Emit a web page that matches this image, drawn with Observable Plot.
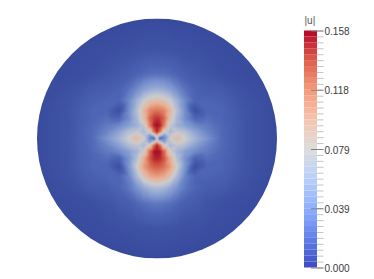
<!DOCTYPE html>
<html><head><meta charset="utf-8">
<script src="https://cdn.jsdelivr.net/npm/d3@7"></script>
<script src="https://cdn.jsdelivr.net/npm/@observablehq/plot@0.6"></script>
<style>
html,body{margin:0;padding:0;background:#fff}
#wrap{position:relative;width:374px;height:279px;overflow:hidden}
#wrap svg{position:absolute;top:0;background:transparent;font-family:"Liberation Sans",Arial,sans-serif}
#disk image{clip-path:circle(50%)}
</style></head><body><div id="wrap"></div>
<script>
const title = "|u|";
const tickLabels = ["0.158","0.118","0.079","0.039","0.000"];
const tickValues = [0.158,0.1185,0.079,0.0395,0];
const colorStops = [0,0.125,0.25,0.375,0.5,0.625,0.75,0.875,1];
const barColors = ["rgb(59,76,192)","rgb(98,130,234)","rgb(141,176,254)","rgb(184,208,249)","rgb(221,221,221)","rgb(245,196,173)","rgb(244,154,123)","rgb(222,96,77)","rgb(180,4,38)"];
const diskColors = ["rgb(55,72,155)","rgb(76,100,180)","rgb(120,145,205)","rgb(162,178,214)","rgb(204,204,204)","rgb(232,178,152)","rgb(225,126,96)","rgb(200,72,60)","rgb(165,10,38)"];
const maxValue = 0.158;
const gridX = [-120,-90,-65,-50,-38,-28,-20,-13,-7,-3,0,3,7,13,20,28,38,50,65,90,120];
const gridY = [-120,-90,-65,-50,-38,-28,-20,-13,-7,-3,0,3,7,13,20,28,38,50,65,90,120];
// |u| in thousandths
const gridRows = [
[1,1,1,1,1,1,1,1,1,1,1,1,1,1,1,1,1,1,1,1,1],
[1,2,3,4,5,6,7,8,8,8,8,8,8,8,7,6,5,4,3,2,1],
[2,3,5,9,12,15,19,22,24,24,24,24,24,22,19,15,12,9,5,3,2],
[2,5,13,14,18,26,36,46,52,54,55,54,52,46,36,26,18,14,13,5,2],
[2,7,17,20,20,36,58,78,88,90,92,90,88,78,58,36,20,20,17,7,2],
[2,8,20,20,5,38,68,98,116,121,122,121,116,98,68,38,5,20,20,8,2],
[2,8,20,24,20,38,62,92,128,142,145,142,128,92,62,38,20,24,20,8,2],
[2,8,21,30,36,48,58,72,120,152,158,152,120,72,58,48,36,30,21,8,2],
[2,8,22,34,50,68,74,62,80,126,150,126,80,62,74,68,50,34,22,8,2],
[2,8,22,38,56,76,88,72,45,65,100,65,45,72,88,76,56,38,22,8,2],
[2,8,22,42,60,80,92,80,32,20,75,20,32,80,92,80,60,42,22,8,2],
[2,8,22,38,56,76,88,72,45,65,100,65,45,72,88,76,56,38,22,8,2],
[2,8,22,34,48,66,72,62,82,128,152,128,82,62,72,66,48,34,22,8,2],
[2,8,21,30,36,48,60,78,128,155,158,155,128,78,60,48,36,30,21,8,2],
[2,8,20,24,18,40,68,102,134,148,150,148,134,102,68,40,18,24,20,8,2],
[2,8,20,20,5,42,80,108,124,130,131,130,124,108,80,42,5,20,20,8,2],
[2,7,17,20,20,34,64,90,102,105,106,105,102,90,64,34,20,20,17,7,2],
[2,5,13,14,20,28,40,52,60,63,64,63,60,52,40,28,20,14,13,5,2],
[2,3,5,9,13,16,21,25,27,28,28,28,27,25,21,16,13,9,5,3,2],
[1,2,3,4,5,6,7,8,8,9,9,9,8,8,7,6,5,4,3,2,1],
[1,1,1,1,1,1,1,1,1,1,1,1,1,1,1,1,1,1,1,1,1]
];
const barBands = 40, minorTicks = 40;

const points = gridRows.flatMap((row,j)=>row.map((v,i)=>({x:gridX[i],y:gridY[j],u:v/1000})));
const stops = colorStops.map(d=>d*maxValue);

const disk = Plot.plot({
  width:277,height:279,marginLeft:36.5,marginRight:0.5,marginTop:18,marginBottom:21,
  x:{domain:[-120,120],axis:null},y:{domain:[-120,120],reverse:true,axis:null},
  color:{type:"linear",domain:stops,range:diskColors,interpolate:"rgb"},
  marks:[Plot.raster(points,{x:"x",y:"y",fill:"u",interpolate:"barycentric",pixelSize:1})]
});
disk.id="disk"; disk.style.left="0px";

const bands = d3.range(barBands).map(i=>({lo:i*maxValue/barBands,hi:(i+1)*maxValue/barBands}));
const minors = d3.range(minorTicks+1).map(i=>i*maxValue/minorTicks);
const majors = tickValues.map((v,i)=>({v,label:tickLabels[i]}));
const bar = Plot.plot({
  width:84,height:279,marginLeft:14,marginRight:0,marginTop:30.5,marginBottom:11.5,
  x:{domain:[0,70],range:[14,84],axis:null},y:{domain:[0,maxValue],axis:null},
  color:{type:"linear",domain:stops,range:barColors,interpolate:"rgb"},
  marks:[
    Plot.rect(bands,{x1:0,x2:13,y1:"lo",y2:"hi",fill:d=>(d.lo+d.hi)/2}),
    Plot.ruleY(minors,{y:d=>d,x1:13,x2:19.5,stroke:"#c4c4c4",strokeWidth:1}),
    Plot.ruleY(majors,{y:"v",x1:7,x2:19.5,stroke:"#808080",strokeWidth:1}),
    Plot.text(majors,{y:"v",x:20,text:"label",textAnchor:"start",fontSize:10,fill:"#3a3a3a",dy:1}),
    Plot.text([title],{x:0,y:maxValue,text:d=>d,textAnchor:"start",fontSize:10,fill:"#555",dy:-10})
  ]
});
bar.style.left="290px";
document.getElementById("wrap").append(disk,bar);
</script></body></html>
